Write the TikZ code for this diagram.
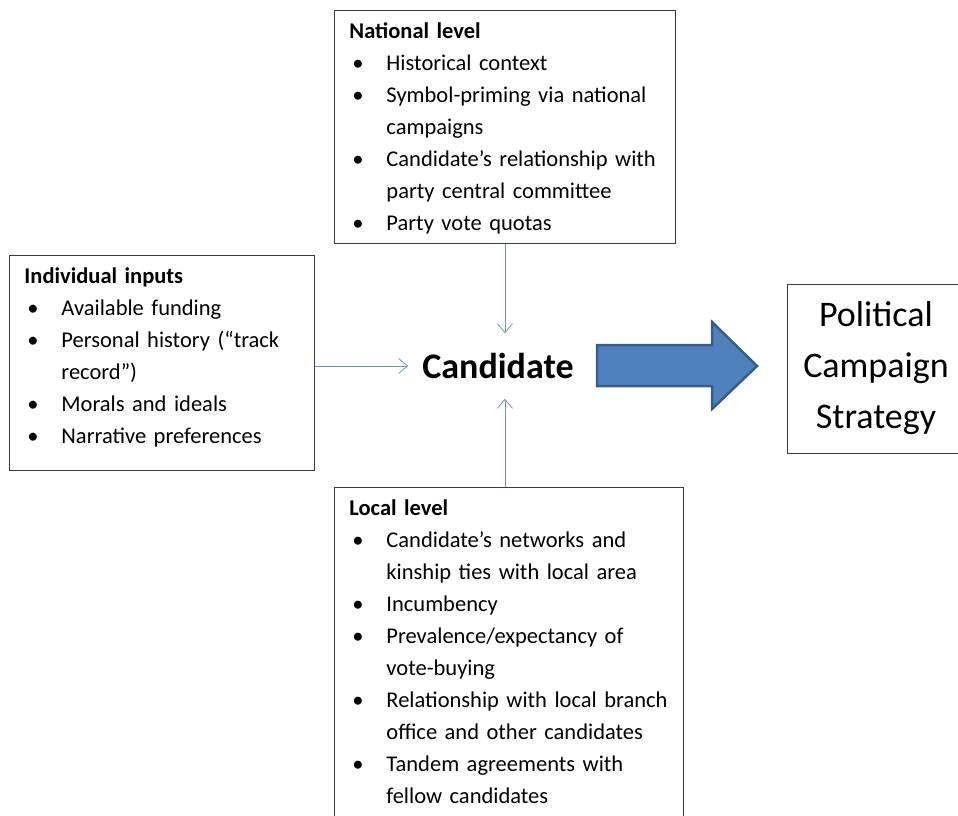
\documentclass[tikz,border=0pt]{standalone}
\usepackage{fontspec}
\setmainfont{Carlito}
\usetikzlibrary{arrows.meta,calc}
\definecolor{linkblue}{HTML}{4F81BD}
\definecolor{arrowedge}{HTML}{385D8A}
\definecolor{boxgray}{HTML}{3C3C3C}
\newcommand{\bitem}{\par\hangindent=37pt\hangafter=1\noindent\makebox[37pt][l]{\hspace{3pt}\textbullet}}
\newcommand{\topline}{\rule{0pt}{22pt}}

\begin{document}
\begin{tikzpicture}[x=1pt, y=-1pt,
	levelbox/.style={draw=boxgray, line width=0.9pt, anchor=north west, inner xsep=15pt, inner ysep=6pt,
		align=left, font={\fontsize{22.5}{32}\selectfont\spaceskip=0.17em plus 0.1em}},
	link/.style={draw=linkblue!85, line width=0.8pt, -{Straight Barb[length=9pt,width=15pt]}}]
\useasboundingbox (0,0) rectangle (958,816);
\node[levelbox, text width=311pt] (national) at (334,10) {\textbf{National level}\topline
	\bitem Historical context
	\bitem Symbol-priming via national\newline campaigns
	\bitem Candidate’s relationship with\newline party central committee
	\bitem Party vote quotas\rule[-7pt]{0pt}{0pt}\par};
\node[levelbox, text width=275pt] (individual) at (9,255) {\textbf{Individual inputs}\topline
	\bitem Available funding
	\bitem Personal history (“track\newline record”)
	\bitem Morals and ideals
	\bitem Narrative preferences\rule[-21pt]{0pt}{0pt}\par};
\node[levelbox, text width=319pt] (local) at (334,487) {\textbf{Local level}\topline
	\bitem Candidate’s networks and\newline kinship ties with local area
	\bitem Incumbency
	\bitem Prevalence/expectancy of\newline vote-buying
	\bitem Relationship with local branch\newline office and other candidates
	\bitem Tandem agreements with\newline fellow candidates\rule[-30pt]{0pt}{0pt}\par};
\node[font={\fontsize{36}{44}\selectfont\bfseries}, minimum height=65pt, inner xsep=14pt] (cand) at (498,366) {Candidate};
\node[draw=boxgray, line width=0.9pt, minimum width=178pt, minimum height=169pt, align=center,
	font={\fontsize{36}{51}\selectfont}] (strategy) at (876,368.5) {Political\\Campaign\\Strategy};
\draw[link] (national.south) -- (national.south |- cand.north);
\draw[link] (national.south |- local.north) -- (national.south |- cand.south);
\draw[link] (cand.west -| individual.east) -- (cand.west);
\draw[fill=linkblue, draw=arrowedge, line width=2.5pt, line join=miter]
	(597,345) -- (712,345) -- (712,322) -- (757,366) -- (712,409) -- (712,386) -- (597,386) -- cycle;
\end{tikzpicture}
\end{document}
